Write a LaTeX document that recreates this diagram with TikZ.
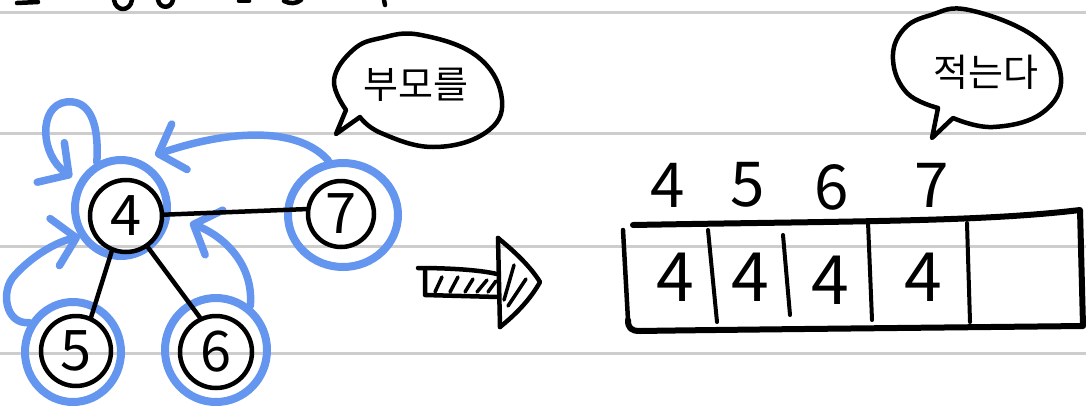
\documentclass[tikz,border=0pt]{standalone}
\usepackage{fontspec}
\setmainfont{Noto Sans CJK KR}
\usetikzlibrary{arrows.meta,shapes.geometric}
\definecolor{penblue}{RGB}{100,150,240}
\definecolor{ruleline}{RGB}{205,205,205}
\begin{document}
\begin{tikzpicture}[x=1pt,y=-1pt,
  ink/.style={line width=4.5pt, line cap=round, line join=round, draw=black},
  vtx/.style={circle, draw=black, line width=4.5pt, minimum size=#1, inner sep=0pt, font=\fontsize{56}{56}\selectfont},
  halo/.style={ellipse, draw=penblue, line width=8pt, inner sep=0pt},
  bluearrow/.style={draw=penblue, line width=7.5pt, line cap=round, -{Straight Barb[length=22pt,width=48pt,round]}},
  digit/.style={font=\fontsize{#1}{#1}\selectfont, inner sep=0pt},
  rulestroke/.style={draw=ruleline, line width=3pt},
  talk/.style={font=\fontsize{38}{38}\selectfont, inner sep=0pt}
]
\useasboundingbox (0,0) rectangle (1086,405);
\fill[white] (0,0) rectangle (1086,405);

% ruled notebook lines
\draw[rulestroke] (0,12) -- (1086,12);
\draw[rulestroke] (0,133) -- (1086,133);
\draw[rulestroke] (0,246) -- (1086,246);
\draw[rulestroke] (0,353) -- (1086,353);

% cut-off strokes of the previous line
\draw[ink] (17,3) -- (38,2);
\draw[ink] (114,0) .. controls (116,12) and (130,12) .. (132,0);
\draw[ink] (158,0) .. controls (160,9) and (171,9) .. (173,0);
\draw[ink] (239,1) -- (249,1);
\draw[ink] (284,1) .. controls (290,4) and (296,4) .. (301,0);
\draw[ink] (384,0) -- (385,5);

% blue halos
\node[halo, minimum width=92pt, minimum height=96pt] (b4) at (121,208) {};
\node[halo, minimum width=110pt, minimum height=104pt] (b7) at (343,215) {};
\node[halo, minimum width=96pt, minimum height=100pt] (b5) at (73,352) {};
\node[halo, minimum width=102pt, minimum height=104pt] (b6) at (216,350) {};

% arrow end points
\coordinate (t4) at (72,177);
\coordinate (t7) at (155,155);
\coordinate (t5) at (80,237);
\coordinate (t6) at (190,223);

% blue arrows
\draw[bluearrow] (b4.118) .. controls (100,110) and (82,100) .. (66,102) .. controls (38,106) and (40,155) .. (t4);
\draw[bluearrow] (b7.105) .. controls (300,128) and (235,128) .. (t7);
\draw[bluearrow] (b5.146) .. controls (5,325) and (0,290) .. (15,275) .. controls (30,258) and (55,242) .. (t5);
\draw[bluearrow] (b6.52) .. controls (254,268) and (228,238) .. (t6);

% vertices
\node[vtx=72pt] (n4) at (126,216) {4};
\node[vtx=66pt] (n7) at (341,214) {7};
\node[vtx=70pt] (n5) at (76,351) {5};
\node[vtx=72pt] (n6) at (216,352) {6};

% tree edges
\draw[ink] (n4.2) -- (n7.172);
\draw[ink] (n4.248) -- (n5.66);
\draw[ink] (n4.305) -- (n6.115);

% speech bubble 1
\draw[ink] plot[smooth, tension=0.7] coordinates {(360,117) (381,133) (433,147) (485,133) (502,100) (478,57) (421,35) (381,38) (353,50) (334,80) (346,110)} -- (336,134) -- cycle;
\node[talk] (say1) at (416,85) {부모를};

% speech bubble 2
\draw[ink] plot[smooth, tension=0.7] coordinates {(953,118) (993,127) (1042,113) (1061,77) (1035,37) (969,10) (931,15) (903,30) (893,60) (907,93) (938,108)} -- (932,138) -- cycle;
\node[talk] (say2) at (986,72) {적는다};

% hatched block arrow
\draw[ink] (418,268) .. controls (450,268) and (480,270) .. (497,274);
\draw[ink] (425,270) -- (425,295) -- (498,297);
\draw[ink, line width=3.5pt] (435,292) -- (442,277);
\draw[ink, line width=3.5pt] (450,292) -- (458,277);
\draw[ink, line width=3.5pt] (465,292) -- (473,279);
\draw[ink, line width=3.5pt] (477,292) -- (487,280);
\draw[ink, line width=3.5pt] (488,292) -- (496,281);
\draw[ink] (498,238) -- (500,327);
\draw[ink] (498,238) .. controls (515,252) and (530,266) .. (540,282) .. controls (530,300) and (515,315) .. (500,327);
\draw[ink, line width=3.5pt] (504,300) -- (514,265);
\draw[ink, line width=3.5pt] (508,306) -- (526,279);

% array
\draw[ink, line width=6pt] (633,225) .. controls (850,221) and (980,222) .. (1080,210) -- (1083,326) .. controls (900,328) and (700,330) .. (640,331) .. controls (631,331) and (628,328) .. (628,320);
\draw[ink] (628,320) -- (623,230);
\draw[ink, line width=4pt] (708,230) -- (717,322);
\draw[ink, line width=4pt] (783,235) -- (790,315);
\draw[ink, line width=4pt] (868,222) -- (872,320);
\draw[ink, line width=4pt] (967,223) -- (970,322);

% index labels
\node[digit=62] (i4) at (668,185) {4};
\node[digit=62] (i5) at (748,185) {5};
\node[digit=62] (i6) at (832,187) {6};
\node[digit=62] (i7) at (932,185) {7};

% stored parents
\node[digit=68] (p4) at (675,277) {4};
\node[digit=68] (p5) at (750,277) {4};
\node[digit=68] (p6) at (830,280) {4};
\node[digit=68] (p7) at (923,277) {4};
\end{tikzpicture}
\end{document}
